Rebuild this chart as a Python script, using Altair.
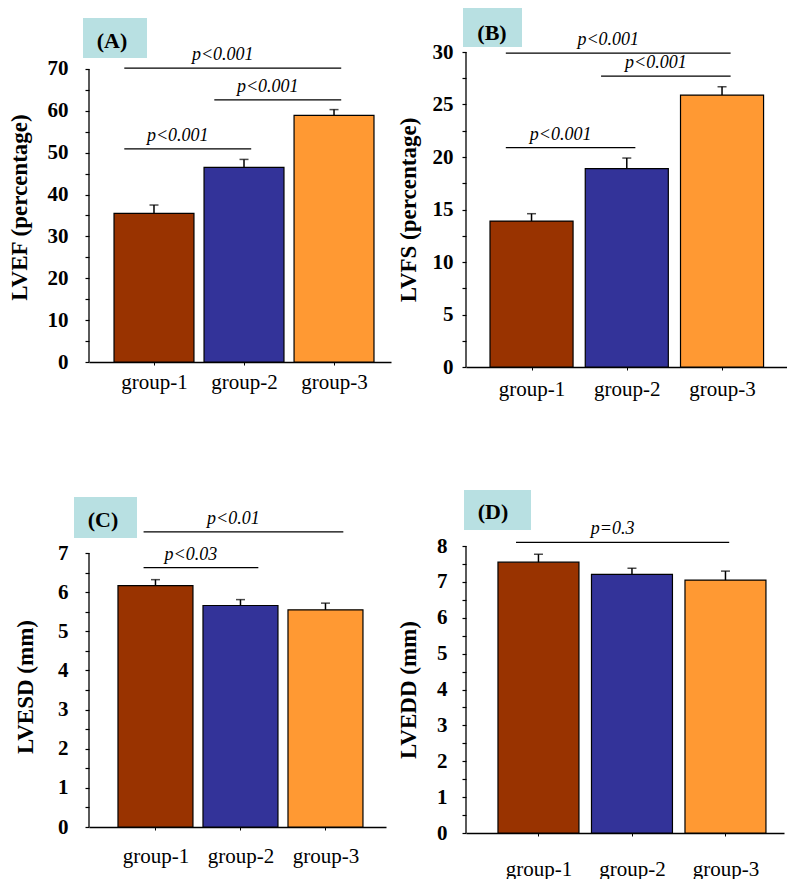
import json
import altair as alt
import pandas as pd

# ---------------- data ----------------
GROUPS = ["group-1", "group-2", "group-3"]
GROUP_INDEX = [1, 2, 3]
COLORS = ["#993300", "#333399", "#FF9933"]

# Panel A: LVEF (%)
LVEF_MEAN = [35.5, 46.5, 58.9]
LVEF_ERR = [2.0, 1.9, 1.4]
LVEF_SIG_FROM = [1, 2, 1]
LVEF_SIG_TO = [3, 3, 2]
LVEF_SIG_Y = [70.2, 62.6, 50.9]
LVEF_SIG_TEXT = ["p<0.001", "p<0.001", "p<0.001"]

# Panel B: LVFS (%)
LVFS_MEAN = [13.9, 18.9, 25.9]
LVFS_ERR = [0.7, 1.0, 0.8]
LVFS_SIG_FROM = [1, 2, 1]
LVFS_SIG_TO = [3, 3, 2]
LVFS_SIG_Y = [29.9, 27.7, 20.9]
LVFS_SIG_TEXT = ["p<0.001", "p<0.001", "p<0.001"]

# Panel C: LVESD (mm)
LVESD_MEAN = [6.17, 5.66, 5.55]
LVESD_ERR = [0.15, 0.15, 0.17]
LVESD_SIG_FROM = [1, 1]
LVESD_SIG_TO = [3, 2]
LVESD_SIG_Y = [7.54, 6.63]
LVESD_SIG_TEXT = ["p<0.01", "p<0.03"]

# Panel D: LVEDD (mm)
LVEDD_MEAN = [7.55, 7.21, 7.05]
LVEDD_ERR = [0.22, 0.17, 0.25]
LVEDD_SIG_FROM = [1]
LVEDD_SIG_TO = [3]
LVEDD_SIG_Y = [8.1]
LVEDD_SIG_TEXT = ["p=0.3"]

# ---------------- styles ----------------
SERIF = "Liberation Serif, Times New Roman, serif"
BOX_FILL = "#b8e0e2"

STYLE_A = dict(label="(A)", title="LVEF (percentage)", axis_max=70, major=10, minor=5,
               ytop=74.06, width=302, height=310, xdom=[0.278, 3.633], hw=0.444,
               over=(-0.33, 0.08), xlabpad=6, ylabpad=17, tpad=15.5,
               box=(-6, 58, -34, 6), boxtext=(23, -11))
STYLE_B = dict(label="(B)", title="LVFS (percentage)", axis_max=30, major=5, minor=2.5,
               ytop=30, width=321, height=315, xdom=[0.312, 3.682], hw=0.436,
               over=(-0.27, 0.09), xlabpad=8, ylabpad=9, tpad=11.5,
               box=(-3, 56, -44, -5), boxtext=(26, -19))
STYLE_C = dict(label="(C)", title="LVESD (mm)", axis_max=7, major=1, minor=0.5,
               ytop=7.18, width=297, height=281, xdom=[0.218, 3.712], hw=0.441,
               over=(-0.14, 0.21), xlabpad=15, ylabpad=17, tpad=20,
               box=(-15, 48, -49, -8), boxtext=(14, -26))
STYLE_D = dict(label="(D)", title="LVEDD (mm)", axis_max=8, major=1, minor=0.5,
               ytop=8, width=318, height=287, xdom=[0.225, 3.626], hw=0.433,
               over=(-0.24, 0.04), xlabpad=22, ylabpad=15, tpad=16,
               box=(-2, 65, -56, -16), boxtext=(27, -34))


def panel(st, means, errs, sfrom, sto, sy, stext):
    df = pd.DataFrame({"idx": GROUP_INDEX, "group": GROUPS, "mean": means, "err": errs})
    sig = pd.DataFrame({"from": sfrom, "to": sto, "y": sy, "text": stext})
    axis_df = pd.DataFrame({"y0": [0], "y1": [st["axis_max"]]})
    lab_df = pd.DataFrame({"lab": [st["label"]]})

    n_ticks = int(round(st["axis_max"] / st["minor"])) + 1
    tick_vals = [round(i * st["minor"], 4) for i in range(n_ticks)]
    major = st["major"]

    xs = alt.Scale(domain=st["xdom"], nice=False, zero=False)
    ys = alt.Scale(domain=[0, st["ytop"]], nice=False, zero=True)

    xaxis = alt.Axis(
        values=GROUP_INDEX,
        labelExpr=f"{json.dumps(GROUPS)}[datum.value - 1]",
        title=None, grid=False,
        domainColor="black", domainWidth=1.3,
        tickColor="black", tickSize=3, tickWidth=1,
        labelFont=SERIF, labelFontSize=21, labelColor="black",
        labelPadding=st["xlabpad"], labelOverlap=False,
    )
    yaxis = alt.Axis(
        values=tick_vals, format="~g",
        labelExpr=f"abs(datum.value / {major} - round(datum.value / {major})) < 0.001 ? datum.label : ''",
        title=st["title"], grid=False, domain=False,
        tickColor="black", tickSize=4, tickWidth=1.2,
        labelFont=SERIF, labelFontSize=21, labelFontWeight="bold", labelColor="black",
        labelPadding=st["ylabpad"], labelOverlap=False, labelFlush=False,
        titleFont=SERIF, titleFontSize=23, titleFontWeight="bold", titleColor="black",
        titlePadding=st["tpad"],
    )

    def X(field):
        return alt.X(field, scale=xs, axis=xaxis)

    def Y(field):
        return alt.Y(field, scale=ys, axis=yaxis)

    hw = st["hw"]
    bars = alt.Chart(df).transform_calculate(
        x0=f"datum.idx - {hw}", x1=f"datum.idx + {hw}", zero="0"
    ).mark_rect(stroke="black", strokeWidth=1.2).encode(
        x=X("x0:Q"),
        x2="x1:Q",
        y=Y("mean:Q"),
        y2="zero:Q",
        color=alt.Color("group:N", scale=alt.Scale(domain=GROUPS, range=COLORS), legend=None),
    )

    err_base = alt.Chart(df).transform_calculate(hi="datum.mean + datum.err")
    stems = err_base.mark_rule(color="black", strokeWidth=1.5).encode(
        x=X("idx:Q"), y=Y("mean:Q"), y2="hi:Q"
    )
    caps = err_base.mark_tick(orient="horizontal", size=9, thickness=1.5, color="black").encode(
        x=X("idx:Q"), y=Y("hi:Q")
    )

    ol, orr = st["over"]
    sig_base = alt.Chart(sig).transform_calculate(
        xs=f"datum.from + ({ol})", xe=f"datum.to + ({orr})"
    ).transform_calculate(xm="(datum.xs + datum.xe) / 2")
    sig_lines = sig_base.mark_rule(color="black", strokeWidth=1.3).encode(
        x=X("xs:Q"), x2="xe:Q", y=Y("y:Q")
    )
    sig_text = sig_base.mark_text(
        font=SERIF, fontSize=18, fontStyle="italic", color="black",
        align="center", baseline="alphabetic", dx=-10, dy=-8,
    ).encode(x=X("xm:Q"), y=Y("y:Q"), text="text:N")

    axis_line = alt.Chart(axis_df).mark_rule(color="black", strokeWidth=1.3).encode(
        x=alt.value(0), y=Y("y0:Q"), y2="y1:Q"
    )

    bx0, bx1, by0, by1 = st["box"]
    box = alt.Chart(lab_df).mark_rect(fill=BOX_FILL).encode(
        x=alt.value(bx0), x2=alt.value(bx1), y=alt.value(by0), y2=alt.value(by1)
    )
    tx, ty = st["boxtext"]
    box_text = alt.Chart(lab_df).mark_text(
        font=SERIF, fontSize=22, fontWeight="bold", color="black",
        align="center", baseline="middle",
    ).encode(x=alt.value(tx), y=alt.value(ty), text="lab:N")

    return alt.layer(
        bars, stems, caps, sig_lines, sig_text, axis_line, box, box_text
    ).properties(width=st["width"], height=st["height"])


pA = panel(STYLE_A, LVEF_MEAN, LVEF_ERR, LVEF_SIG_FROM, LVEF_SIG_TO, LVEF_SIG_Y, LVEF_SIG_TEXT)
pB = panel(STYLE_B, LVFS_MEAN, LVFS_ERR, LVFS_SIG_FROM, LVFS_SIG_TO, LVFS_SIG_Y, LVFS_SIG_TEXT)
pC = panel(STYLE_C, LVESD_MEAN, LVESD_ERR, LVESD_SIG_FROM, LVESD_SIG_TO, LVESD_SIG_Y, LVESD_SIG_TEXT)
pD = panel(STYLE_D, LVEDD_MEAN, LVEDD_ERR, LVEDD_SIG_FROM, LVEDD_SIG_TO, LVEDD_SIG_Y, LVEDD_SIG_TEXT)

chart = alt.concat(
    pA, pB, pC, pD, columns=2, align="each", spacing={"row": 91, "column": 6}
).properties(
    padding={"left": 0, "top": 0, "right": 0, "bottom": 0}, background="white"
).configure_view(stroke=None)

chart.save("out.html", embed_options={"renderer": "svg", "actions": False})
